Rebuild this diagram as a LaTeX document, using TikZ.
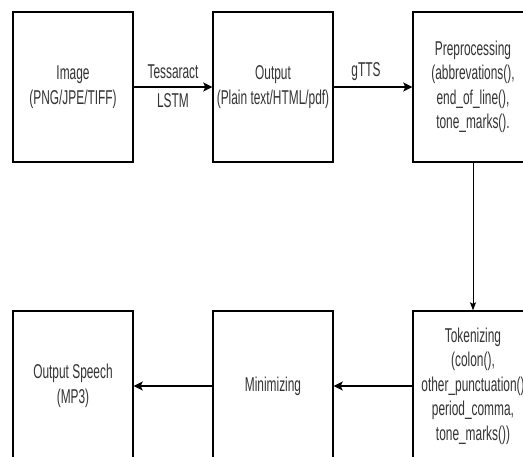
\documentclass[tikz,border=0pt]{standalone}
\usepackage{fontspec}
\setmainfont[FakeStretch=0.595]{Liberation Sans}
\usetikzlibrary{arrows.meta}
\begin{document}
\begin{tikzpicture}[x=1pt,y=-1pt,
  procbox/.style={draw=black, line width=1.4pt, minimum width=120pt, minimum height=150pt,
    inner sep=0pt, align=center, text=black!80, font=\fontsize{20}{24.5}\selectfont},
  lbl/.style={inner sep=0pt, text=black!80, font=\fontsize{20}{24.5}\selectfont},
  flow/.style={draw=black, line width=1.6pt, -{Stealth[length=9pt,width=9pt,inset=2pt]}},
  thinflow/.style={draw=black, line width=0.8pt, -{Stealth[length=8pt,width=6pt,inset=1.5pt]}}]
\useasboundingbox (0,0) rectangle (523,457);
\clip (0,0) rectangle (523,457);
\node[procbox] (img) at (73,87) {Image\\(PNG/JPE/TIFF)};
\node[procbox] (out) at (273,87) {Output\\(Plain text/HTML/pdf)};
\node[procbox] (pre) at (473,87) {Preprocessing\\(abbrevations(),\\end\_of\_line(),\\tone\_marks().};
\node[procbox] (tok) at (473,386) {Tokenizing\\(colon(),\\other\_punctuation()\\period\_comma,\\tone\_marks())};
\node[procbox] (min) at (273,386) {Minimizing};
\node[procbox] (spk) at (73,386) {Output Speech\\(MP3)};
\draw[flow] (img.east) -- (out.west);
\draw[flow] (out.east) -- (pre.west);
\draw[thinflow] (pre.south) -- (tok.north);
\draw[flow] (tok.west) -- (min.east);
\draw[flow] (min.west) -- (spk.east);
\node[lbl] (l1) at (173,72) {Tessaract};
\node[lbl] (l2) at (173,101) {LSTM};
\node[lbl] (l3) at (366,72) {gTTS};
\end{tikzpicture}
\end{document}
